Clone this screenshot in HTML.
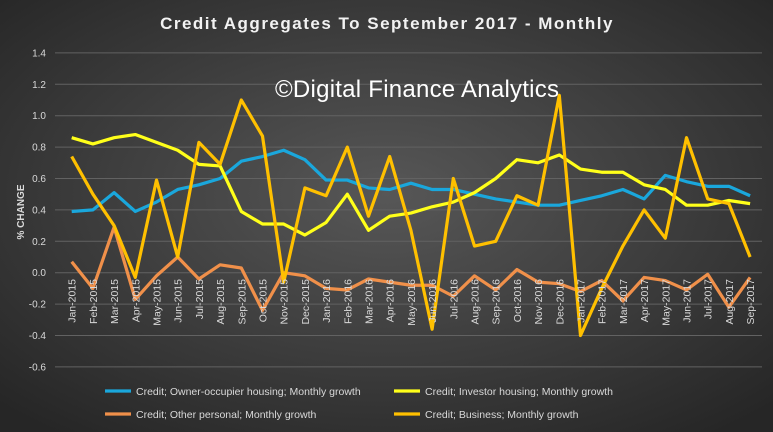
<!DOCTYPE html>
<html><head><meta charset="utf-8"><style>
body{margin:0;width:773px;height:432px;overflow:hidden;background:#333}
svg{display:block;font-family:"Liberation Sans",sans-serif}
</style></head><body>
<svg width="773" height="432">
<defs><radialGradient id="bg" cx="50%" cy="45%" r="70%"><stop offset="0" stop-color="#575757"/><stop offset="1" stop-color="#262626"/></radialGradient></defs>
<rect width="773" height="432" fill="url(#bg)"/>
<text x="387" y="29" fill="#f2f2f2" font-size="17" font-weight="bold" letter-spacing="1.5" text-anchor="middle">Credit Aggregates To September 2017 - Monthly</text>
<g id="grid"></g><g id="series"></g><g id="xl"></g>
<text x="275" y="97" fill="#ffffff" font-size="24" textLength="284">©Digital Finance Analytics</text>
<text transform="translate(24,212) rotate(-90)" fill="#d9d9d9" font-size="10" font-weight="bold" text-anchor="middle">% CHANGE</text>
<g id="legend"></g>
</svg>
<script>
const months=["Jan-2015","Feb-2015","Mar-2015","Apr-2015","May-2015","Jun-2015","Jul-2015","Aug-2015","Sep-2015","Oct-2015","Nov-2015","Dec-2015","Jan-2016","Feb-2016","Mar-2016","Apr-2016","May-2016","Jun-2016","Jul-2016","Aug-2016","Sep-2016","Oct-2016","Nov-2016","Dec-2016","Jan-2017","Feb-2017","Mar-2017","Apr-2017","May-2017","Jun-2017","Jul-2017","Aug-2017","Sep-2017"];
const owner=[.39,.40,.51,.39,.45,.53,.56,.60,.71,.74,.78,.72,.59,.59,.54,.53,.57,.53,.53,.50,.47,.45,.43,.43,.46,.49,.53,.47,.62,.58,.55,.55,.49];
const investor=[.86,.82,.86,.88,.83,.78,.69,.68,.39,.31,.31,.24,.32,.50,.27,.36,.38,.42,.45,.51,.60,.72,.70,.75,.66,.64,.64,.56,.53,.43,.43,.46,.44];
const personal=[.07,-.10,.29,-.17,-.02,.10,-.04,.05,.03,-.24,.00,-.02,-.10,-.11,-.04,-.06,-.08,-.08,-.15,-.02,-.11,.02,-.06,-.07,-.12,-.05,-.18,-.03,-.05,-.11,-.01,-.22,-.03];
const business=[.74,.50,.30,-.03,.59,.10,.83,.69,1.10,.87,-.06,.54,.49,.80,.36,.74,.27,-.36,.60,.17,.20,.49,.43,1.13,-.40,-.10,.17,.40,.22,.86,.47,.44,.10];
const yTicks=["1.4","1.2","1.0","0.8","0.6","0.4","0.2","0.0","-0.2","-0.4","-0.6"];
const NS="http://www.w3.org/2000/svg";
const X=i=>71.7+i*21.2, Y=v=>272.7-v*157;
function mk(t,a,p){const e=document.createElementNS(NS,t);for(const k in a)e.setAttribute(k,a[k]);p.appendChild(e);return e;}
const grid=document.getElementById('grid');
yTicks.forEach(t=>{const v=parseFloat(t);
 const l=mk('line',{x1:55,x2:762,y1:Y(v),y2:Y(v),stroke:'#626262','stroke-width':1},grid);
 
 
 const tx=mk('text',{x:46,y:Y(v)+3.5,fill:'#d9d9d9','font-size':10,'text-anchor':'end'},grid);tx.textContent=t;
 
 });
const xl=document.getElementById('xl');
months.forEach((m,i)=>{const t=mk('text',{transform:`translate(${X(i)+4},279) rotate(-90)`,fill:'#d9d9d9','font-size':10.5,'text-anchor':'end'},xl);t.textContent=m;
 
 });
const ser=document.getElementById('series');
[[owner,'#1aa7dc','owner-occupier-line'],[investor,'#ffff1a','investor-line'],[personal,'#f0904a','other-personal-line'],[business,'#ffc000','business-line']].forEach(([d,c,n])=>{
 const p=mk('polyline',{points:d.map((v,i)=>X(i)+','+Y(v)).join(' '),fill:'none',stroke:c,'stroke-width':3.2,'stroke-linejoin':'round'},ser);
 
 });
const lg=document.getElementById('legend');
[["Credit; Owner-occupier housing; Monthly growth",'#1aa7dc',105,391],["Credit; Investor housing; Monthly growth",'#ffff1a',394,391],["Credit; Other personal; Monthly growth",'#f0904a',105,414],["Credit; Business; Monthly growth",'#ffc000',394,414]].forEach(([t,c,x,y])=>{
 const g=mk('g',{},lg);
 
 
 mk('line',{x1:x,x2:x+26,y1:y,y2:y,stroke:c,'stroke-width':3.2},g);
 const tx=mk('text',{x:x+31,y:y+4,fill:'#d9d9d9','font-size':10.5},g);tx.textContent=t;});
</script>
</body></html>
